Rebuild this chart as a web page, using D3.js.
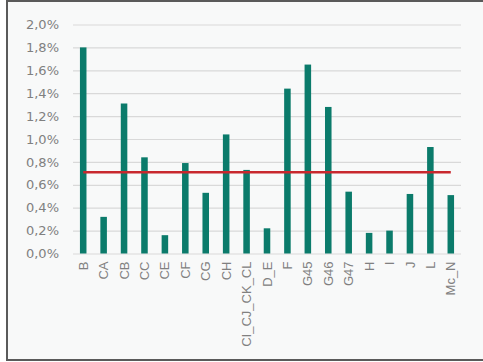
<!DOCTYPE html>
<html>
<head>
<meta charset="utf-8">
<script src="https://cdn.jsdelivr.net/npm/d3@7"></script>
<style>
  body { margin: 0; background: #fff; }
  svg { display: block; }
</style>
</head>
<body>
<svg id="chart" width="483" height="362"></svg>
<script>
// data
let kCategories = ["B","CA","CB","CC","CE","CF","CG","CH","CI_CJ_CK_CL","D_E","F","G45","G46","G47","H","I","J","L","Mc_N"];
let kValues = [0.0180,0.0032,0.0131,0.0084,0.0016,0.0079,0.0053,0.0104,0.0073,0.0022,0.0144,0.0165,0.0128,0.0054,0.0018,0.0020,0.0052,0.0093,0.0051];
let kAverage = 0.0071;
let kTicks = [0,0.002,0.004,0.006,0.008,0.010,0.012,0.014,0.016,0.018,0.020];

let kColors = {
  "bar": "#0b7b6b",
  "avg": "#c8282e",
  "grid": "#d9d9d9",
  "text": "#808080",
  "frame": "#5a5a5a",
  "panel": "#f8f9f9"
};

let kChart = { "x1": 73, "x2": 461, "y0": 253.5, "y1": 24.5 };

const svg = d3.select("#chart");

// frame + panel
svg.append("rect")
  .attr("x", 7).attr("y", 1)
  .attr("width", 490).attr("height", 359)
  .attr("fill", kColors.panel)
  .attr("stroke", kColors.frame)
  .attr("stroke-width", 2);

const x = d3.scaleBand()
  .domain(kCategories)
  .range([kChart.x1, kChart.x2])
  .paddingInner(0.68)
  .paddingOuter(0.34);

const y = d3.scaleLinear()
  .domain([0, 0.02])
  .range([kChart.y0, kChart.y1]);

const locale = d3.formatLocale({ decimal: ",", thousands: ".", grouping: [3], currency: ["", "€"] });
const fmt = locale.format(".1%");

// y axis with gridlines
const gy = svg.append("g")
  .attr("transform", "translate(" + kChart.x1 + ",0)")
  .call(d3.axisLeft(y).tickValues(kTicks).tickFormat(fmt)
    .tickSize(-(kChart.x2 - kChart.x1)).tickPadding(14));
gy.select(".domain").remove();
gy.selectAll(".tick line").attr("stroke", kColors.grid).attr("stroke-width", 1.2);
gy.selectAll(".tick text")
  .attr("fill", kColors.text)
  .style("font-family", "'DejaVu Sans', sans-serif")
  .style("font-size", "13px");

// bars
svg.append("g").selectAll("rect")
  .data(kValues)
  .join("rect")
  .attr("x", (d, i) => x(kCategories[i]))
  .attr("y", d => y(d))
  .attr("width", x.bandwidth())
  .attr("height", d => y(0) - y(d))
  .attr("fill", kColors.bar);

// average line
const line = d3.line()
  .x(d => x(d) + x.bandwidth() / 2)
  .y(() => y(kAverage));
svg.append("path")
  .datum(kCategories)
  .attr("d", line)
  .attr("fill", "none")
  .attr("stroke", kColors.avg)
  .attr("stroke-width", 2.5);

// x axis labels
const gx = svg.append("g")
  .attr("transform", "translate(0," + kChart.y0 + ")")
  .call(d3.axisBottom(x).tickSize(0));
gx.select(".domain").remove();
gx.selectAll(".tick text")
  .attr("transform", "rotate(-90)")
  .attr("text-anchor", "end")
  .attr("x", -8)
  .attr("y", 0)
  .attr("dy", "0.35em")
  .attr("fill", kColors.text)
  .style("font-family", "'Liberation Sans', Arial, sans-serif")
  .style("font-size", "13px");
</script>
</body>
</html>
